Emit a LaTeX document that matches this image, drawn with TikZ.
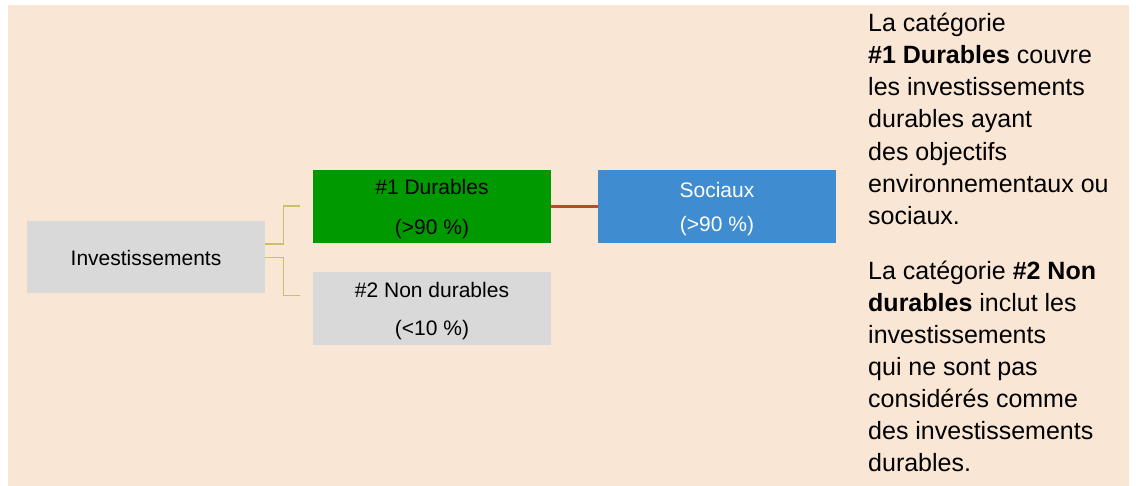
\documentclass[tikz,border=0pt]{standalone}
\usepackage{fontspec}
\setmainfont{Liberation Sans}
\usetikzlibrary{calc}
\definecolor{bgbeige}{RGB}{249,230,212}
\definecolor{boxgray}{RGB}{217,217,217}
\definecolor{boxgreen}{RGB}{0,153,0}
\definecolor{boxblue}{RGB}{64,140,208}
\definecolor{linered}{RGB}{192,72,36}
\definecolor{linekhaki}{RGB}{204,190,110}
\newcommand{\toppad}{\rule{0pt}{20.5pt}}
\tikzset{
  catbox/.style={rectangle, inner sep=0pt, minimum width=238pt, minimum height=72.5pt, align=center},
  conn/.style={draw=linekhaki, line width=1.4pt},
  redconn/.style={draw=linered, line width=3pt},
  sidetext/.style={inner sep=0pt, anchor=north west, align=left, font=\fontsize{25}{32.1}\selectfont}
}
\begin{document}
\begin{tikzpicture}[x=1pt,y=-1pt]
\useasboundingbox (0,0) rectangle (1136,486);
\fill[white] (0,0) rectangle (1136,486);
\fill[bgbeige] (8,5) rectangle (1129,486);
\node[catbox, font=\fontsize{21}{39}\selectfont, fill=boxgray, minimum height=72pt] (inv) at (146,257) {\rule{0pt}{17pt}Investissements};
\node[catbox, font=\fontsize{21}{40}\selectfont, fill=boxgreen] (dur) at (432,206.3) {\toppad\#1 Durables\\(>90 \%)};
\node[catbox, font=\fontsize{21}{38.5}\selectfont, fill=boxgray] (non) at (432,308.3) {\toppad\#2 Non durables\\(<10 \%)};
\node[catbox, font=\fontsize{21}{34.5}\selectfont, fill=boxblue, text=white] (soc) at (717,206.3) {\toppad Sociaux\\(>90 \%)};
\coordinate (t1) at (300,206);
\coordinate (t2) at (300,295.3);
\draw[conn] ($(inv.east)+(0,-13)$) -- ++(18,0) |- (t1);
\draw[conn] ($(inv.east)+(0,0.7)$) -- ++(18,0) |- (t2);
\draw[redconn] (dur.east) -- (soc.west);
\node[sidetext] (p1) at (868,13) {La catégorie\\\textbf{\#1 Durables} couvre\\les investissements\\durables ayant\\des objectifs\\environnementaux ou\\sociaux.\\[23pt]La catégorie \textbf{\#2 Non}\\\textbf{durables} inclut les\\investissements\\qui ne sont pas\\considérés comme\\des investissements\\durables.};
\end{tikzpicture}
\end{document}
